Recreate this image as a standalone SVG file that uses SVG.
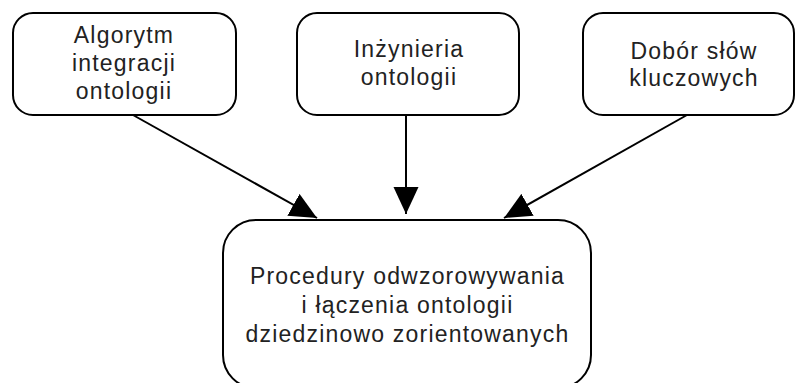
<svg xmlns="http://www.w3.org/2000/svg" width="795" height="383" viewBox="0 0 795 383">
<style>
.box{fill:#fff;stroke:#000;stroke-width:2}
.lbl{font-family:"Liberation Sans",Arial,sans-serif;font-size:23px;letter-spacing:1.2px;fill:#222;text-anchor:middle}
.edge{stroke:#000;stroke-width:2;fill:none;marker-end:url(#arrow)}
</style>
<defs>
<marker id="arrow" markerUnits="userSpaceOnUse" markerWidth="28" markerHeight="26" viewBox="0 0 28 26" refX="27" refY="13" orient="auto">
<path d="M0,0.5 L27,13 L0,25.5 z" fill="#000"/>
</marker>
</defs>
<rect width="795" height="383" fill="#fff"/>
<g id="connectors">
<line class="edge" x1="133" y1="115" x2="317" y2="218"/>
<line class="edge" x1="406" y1="115" x2="406" y2="214"/>
<line class="edge" x1="687" y1="115" x2="504" y2="218"/>
</g>
<g id="n1">
<rect class="box" x="13" y="13" width="223" height="102" rx="20" ry="20"/>
<text class="lbl" x="124" y="42.5">Algorytm</text>
<text class="lbl" x="124" y="70.5">integracji</text>
<text class="lbl" x="124" y="98.5">ontologii</text>
</g>
<g id="n2">
<rect class="box" x="297" y="13" width="222" height="102" rx="20" ry="20"/>
<text class="lbl" x="409" y="57">Inżynieria</text>
<text class="lbl" x="409" y="85">ontologii</text>
</g>
<g id="n3">
<rect class="box" x="583" y="13" width="211" height="102" rx="20" ry="20"/>
<text class="lbl" x="694" y="59">Dobór słów</text>
<text class="lbl" x="694" y="86">kluczowych</text>
</g>
<g id="n4">
<rect class="box" x="223" y="220" width="368" height="168" rx="33" ry="33"/>
<text class="lbl" x="407.5" y="283.5">Procedury odwzorowywania</text>
<text class="lbl" x="407.5" y="312.5">i łączenia ontologii</text>
<text class="lbl" x="407.5" y="341.5">dziedzinowo zorientowanych</text>
</g>
</svg>
